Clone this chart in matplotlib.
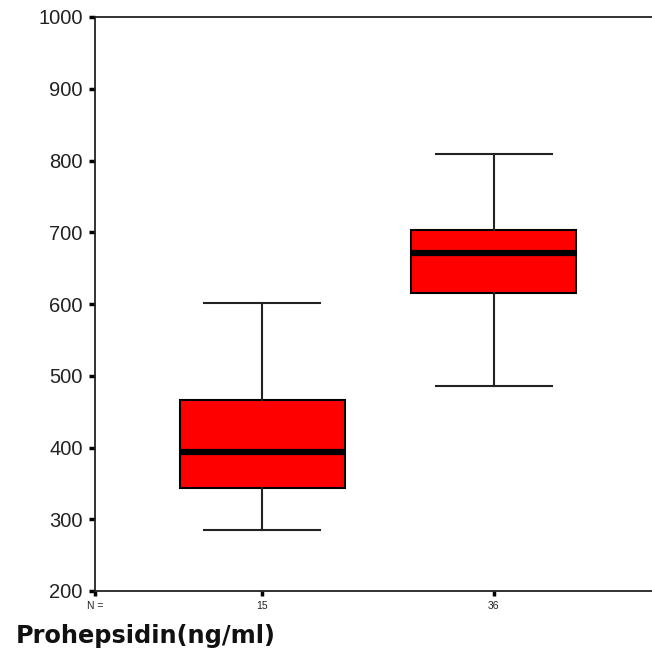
import matplotlib
matplotlib.use("Agg")
import matplotlib.pyplot as plt

# Data
groups = ["15", "36"]          # N per group shown under the boxes
whislo = [285, 486]
q1 = [344, 615]
med = [394, 671]
q3 = [466, 703]
whishi = [601, 809]
yticks = [200, 300, 400, 500, 600, 700, 800, 900, 1000]
xlabel = "Prohepsidin(ng/ml)"

plt.rcParams['font.family'] = ['Liberation Sans', 'DejaVu Sans']

fig = plt.figure(figsize=(6.52, 6.57), dpi=100)
ax = fig.add_axes([95/652, 66/657, 566/652, 574/657])

stats = [dict(whislo=whislo[i], q1=q1[i], med=med[i], q3=q3[i],
              whishi=whishi[i], fliers=[], label=groups[i])
         for i in range(len(groups))]
positions = list(range(1, len(groups) + 1))
ax.bxp(stats, positions=positions, widths=0.715, patch_artist=True,
       showfliers=False,
       boxprops=dict(facecolor='#ff0000', edgecolor='black', linewidth=1.5),
       medianprops=dict(color='black', linewidth=4.5, solid_capstyle='butt'),
       whiskerprops=dict(color='#222222', linewidth=1.5),
       capprops=dict(color='#222222', linewidth=1.5),
       capwidths=0.5)

xmin, xmax = 0.277, 2.723
ax.set_xlim(xmin, xmax)
ax.set_ylim(200, 1000)
ax.set_yticks(yticks)
ax.set_yticklabels([str(v) for v in yticks], fontsize=14.5, color='#222222')
ax.set_xticks([xmin] + positions)
ax.set_xticklabels(["N ="] + groups, fontsize=7.5, color='#222222')
ax.tick_params(axis='y', length=4, width=2.5, direction='out', pad=5)
ax.tick_params(axis='x', length=3.5, width=2.5, direction='out', pad=4)
for s in ax.spines.values():
    s.set_linewidth(1.3)
    s.set_color('#222222')

fig.text(16/652, 1 - 636/657, xlabel, fontsize=17.3, fontweight='bold',
         family=['DejaVu Sans'], va='center', ha='left', color='#111111')

fig.savefig("out.png", dpi=100)
